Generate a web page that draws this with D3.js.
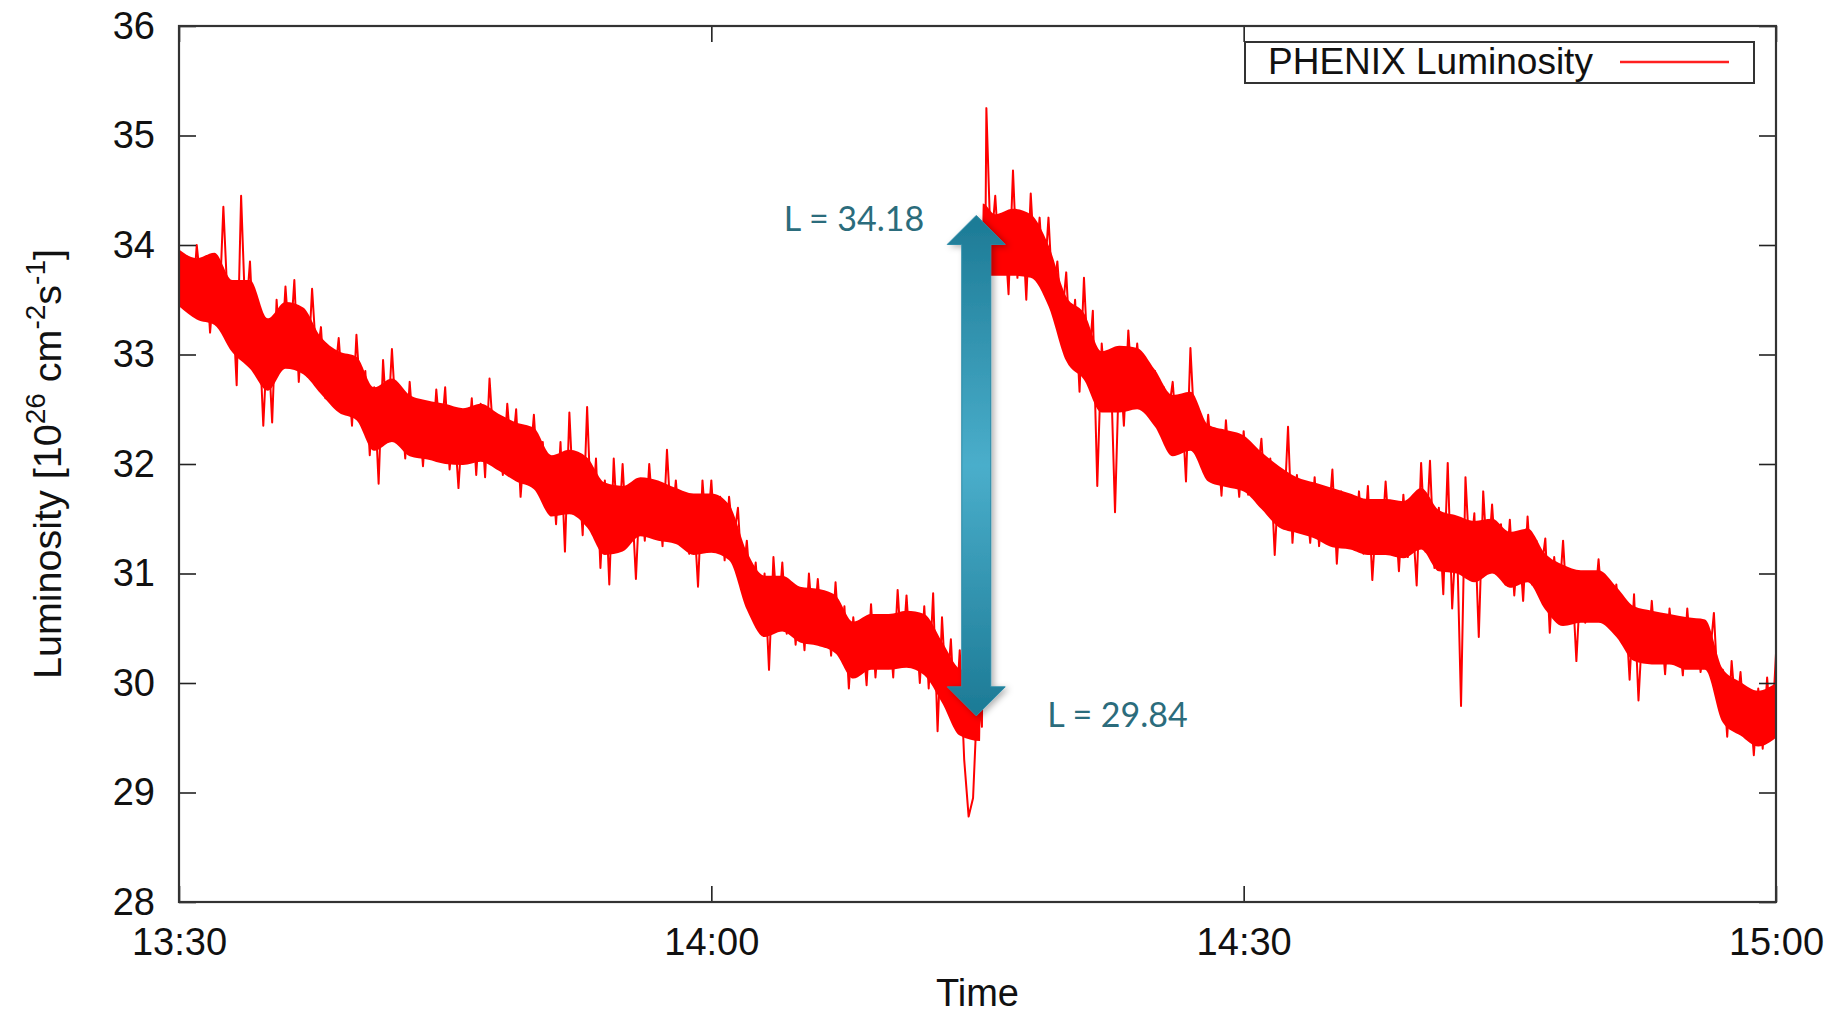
<!DOCTYPE html>
<html>
<head>
<meta charset="utf-8">
<script src="https://cdn.jsdelivr.net/npm/d3@7"></script>
<style>
  html, body { margin: 0; padding: 0; background: #fff; }
  svg { display: block; }
</style>
</head>
<body>
<svg id="chart" width="1833" height="1017"></svg>
<script>
// ---------------- DATA ----------------
const startTime = new Date(2000, 0, 1, 13, 30, 0);   // 13:30
const xTickLabels = ["13:30", "14:00", "14:30", "15:00"];
const xTickMinutes = [0, 30, 60, 90];
const yTickValues = [28, 29, 30, 31, 32, 33, 34, 35, 36];
const yDomain = [28, 36];
const xDomainMinutes = [0, 90];

const seriesName = "PHENIX Luminosity";
const xTitle = "Time";

// noisy trace: one sample every 0.25 min from 13:30 to 15:00
const traceStepMinutes = 0.25;
const traceValues = [
  33.95, 33.5, 33.7, 33.42,   34.0, 33.6, 33.88, 33.2,    33.7, 33.3, 34.35, 33.45,
  33.55, 32.72, 34.45, 33.3,  33.85, 33.0, 33.3, 32.35,   33.2, 32.38, 33.5, 32.9,
  33.62, 33.05, 33.68, 32.75, 33.4, 32.8, 33.6, 32.95,    33.25, 32.6, 33.05, 32.75,
  33.15, 32.6, 32.9, 32.35,   33.18, 32.55, 32.85, 32.08, 32.7, 31.82, 32.95, 32.3,
  33.05, 32.35, 32.6, 32.05,  32.75, 32.2, 32.5, 31.98,   32.55, 32.05, 32.68, 32.2,
  32.7, 31.95, 32.4, 31.78,   32.45, 32.1, 32.6, 31.9,    32.55, 31.88, 32.78, 32.15,
  32.35, 31.9, 32.55, 32.05,  32.5, 31.7, 32.25, 31.95,   32.45, 31.8, 32.2, 31.6,
  32.05, 31.45, 32.2, 31.2,   32.47, 31.6, 32.0, 31.35,   32.52, 31.45, 32.05, 31.05,
  31.85, 30.9, 32.05, 31.3,   32.0, 31.25, 31.75, 30.95,  31.85, 31.3, 32.0, 31.45,
  31.8, 31.25, 32.13, 31.4,   31.85, 31.35, 31.7, 31.18,  31.6, 30.88, 31.85, 31.3,
  31.85, 31.2, 31.7, 31.12,   31.7, 31.3, 31.6, 30.9,     31.3, 30.75, 31.1, 30.55,
  31.0, 30.12, 31.15, 30.55,  31.1, 30.45, 30.9, 30.35,   30.85, 30.3, 31.0, 30.45,
  30.95, 30.4, 30.8, 30.25,   30.92, 30.3, 30.7, 29.95,   30.6, 30.15, 30.5, 29.98,
  30.72, 30.05, 30.6, 30.2,   30.6, 30.05, 30.85, 30.2,   30.8, 30.15, 30.62, 30.0,
  30.7, 29.95, 30.82, 29.56,  30.6, 29.85, 30.4, 29.6,    30.3, 29.3, 28.78, 28.95,
  29.9, 29.6, 35.25, 33.95,   34.45, 33.8, 34.2, 33.55,   34.68, 33.7, 34.3, 33.5,
  34.47, 33.75, 34.25, 33.62, 34.25, 33.5, 33.85, 33.3,   33.75, 32.95, 33.5, 32.66,
  33.7, 32.85, 33.4, 31.8,    33.1, 32.6, 32.95, 31.56,   33.0, 32.35, 33.22, 32.6,
  33.1, 32.6, 32.9, 32.45,    32.85, 32.3, 32.7, 32.45,   32.75, 32.2, 32.6, 31.84,
  33.06, 32.25, 32.45, 31.97, 32.45, 31.95, 32.3, 31.71,  32.4, 31.85, 32.2, 31.7,
  32.3, 31.72, 32.15, 31.85,  32.23, 31.6, 32.05, 31.17,  31.95, 31.45, 32.34, 31.28,
  31.9, 31.4, 31.75, 31.28,   31.88, 31.25, 31.7, 31.4,   31.95, 31.09, 31.75, 31.3,
  31.65, 31.22, 31.75, 31.18, 31.8, 30.94, 31.6, 31.2,    31.84, 31.25, 31.65, 31.02,
  31.72, 31.15, 31.55, 30.89, 32.01, 31.2, 32.03, 31.05,  31.6, 30.81, 32.01, 30.68,
  31.45, 29.79, 31.88, 31.1,  31.55, 30.42, 31.75, 31.05, 31.63, 31.0, 31.45, 30.9,
  31.49, 30.8, 31.35, 30.75,  31.52, 30.9, 31.3, 31.0,    31.32, 30.46, 31.15, 30.7,
  31.3, 30.6, 31.0, 30.2,     30.98, 30.55, 30.85, 30.65, 31.13, 30.6, 30.9, 30.5,
  30.9, 30.45, 30.75, 30.03,  30.81, 29.84, 30.6, 30.2,   30.75, 30.2, 30.6, 30.08,
  30.68, 30.25, 30.5, 30.07,  30.68, 30.15, 30.55, 30.1,  30.45, 30.2, 30.64, 29.85,
  30.12, 29.51, 30.2, 29.7,   30.1, 29.55, 29.9, 29.34,   29.95, 29.4, 30.05, 29.5,
  30.27
];

// dense (solid) core of the noisy band
const coreMinutes = [0,1,2,3,4,5,6,7,8,9,10,11,12,13,14,15,16,17,18,19,20,21,22,23,24,25,26,27,28,29,30,
  31,32,33,34,35,36,37,38,39,40,41,42,43,44,45.15,45.3,46,47,48,49,50,51,52,53,54,55,56,57,58,59,60,
  61,62,63,64,65,66,67,68,69,70,71,72,73,74,75,76,77,78,79,80,81,82,83,84,85,86,87,88,89,90];
const coreTop = [33.96,33.88,33.93,33.68,33.68,33.33,33.48,33.43,33.16,33.03,32.98,32.7,32.78,32.63,32.58,32.55,
  32.51,32.55,32.46,32.38,32.33,32.08,32.13,32.06,31.83,31.8,31.88,31.85,31.78,31.73,31.73,31.63,31.2,30.98,
  30.98,30.88,30.86,30.8,30.56,30.63,30.63,30.66,30.63,30.38,30.13,30.08,34.38,34.28,34.33,34.28,34.0,33.53,33.38,
  33.03,33.08,33.06,32.86,32.63,32.66,32.36,32.31,32.26,32.11,31.98,31.88,31.83,31.78,31.73,31.68,31.68,31.66,
  31.78,31.58,31.53,31.48,31.5,31.38,31.41,31.18,31.08,31.03,31.03,30.88,30.7,30.66,30.63,30.6,30.58,30.13,
  30.01,29.93,30.0];
const coreBottom = [33.44,33.32,33.27,33.02,32.87,32.67,32.87,32.82,32.64,32.47,32.4,32.12,32.2,32.07,32.04,
  32.0,31.99,32.02,31.94,31.84,31.77,31.52,31.54,31.42,31.17,31.2,31.34,31.3,31.27,31.17,31.19,31.12,30.67,
  30.42,30.47,30.37,30.34,30.27,30.04,30.12,30.12,30.14,30.07,29.82,29.52,29.47,33.72,33.72,33.72,33.7,33.44,32.94,
  32.77,32.47,32.47,32.5,32.34,32.07,32.12,31.84,31.79,31.75,31.59,31.42,31.37,31.32,31.24,31.22,31.17,31.17,
  31.14,31.22,31.02,31.0,30.92,31.0,30.87,30.92,30.67,30.52,30.55,30.55,30.42,30.2,30.17,30.17,30.12,30.12,
  29.64,29.52,29.42,29.5];

// annotation (double arrow at the refill)
const arrowMinute = 44.93;
const arrowTipValues = [29.70, 34.27];
const annotationLabels = ["L = 34.18", "L = 29.84"];

// ---------------- LAYOUT ----------------
const margin = { left: 179, top: 26, right: 1833 - 1776, bottom: 1017 - 902 };
const W = 1833, H = 1017;
const svg = d3.select("#chart");
const toDate = m => new Date(startTime.getTime() + m * 60000);

const x = d3.scaleTime().domain(xDomainMinutes.map(toDate)).range([margin.left, W - margin.right]);
const y = d3.scaleLinear().domain(yDomain).range([H - margin.bottom, margin.top]);

const axisFont = "'Liberation Sans', Arial, Helvetica, sans-serif";
const axisColor = "#222";

const defs = svg.append("defs");
defs.append("clipPath").attr("id", "plotclip")
  .append("rect").attr("x", margin.left).attr("y", margin.top)
  .attr("width", W - margin.left - margin.right).attr("height", H - margin.top - margin.bottom);

// ---------- data ----------
const coreData = coreMinutes.map((m, i) => ({ t: toDate(m), hi: coreTop[i], lo: coreBottom[i] }));
const traceData = traceValues.map((v, i) => ({ t: toDate(i * traceStepMinutes), v }));

const gData = svg.append("g").attr("clip-path", "url(#plotclip)");
gData.append("path")
  .datum(coreData)
  .attr("fill", "#ff0000")
  .attr("d", d3.area().curve(d3.curveMonotoneX).x(d => x(d.t)).y0(d => y(d.lo)).y1(d => y(d.hi)));
gData.append("path")
  .datum(traceData)
  .attr("fill", "none")
  .attr("stroke", "#ff0000")
  .attr("stroke-width", 2)
  .attr("stroke-linejoin", "round")
  .attr("d", d3.line().x(d => x(d.t)).y(d => y(d.v)));

// ---------- axes ----------
const xTicks = xTickMinutes.map(toDate);

const gx = svg.append("g").attr("transform", `translate(0,${H - margin.bottom})`)
  .call(d3.axisBottom(x).tickValues(xTicks).tickFormat((d, i) => xTickLabels[i]).tickSize(-16).tickPadding(26));
const gxTop = svg.append("g").attr("transform", `translate(0,${margin.top})`)
  .call(d3.axisTop(x).tickValues(xTicks).tickFormat("").tickSize(-16));
const gy = svg.append("g").attr("transform", `translate(${margin.left},0)`)
  .call(d3.axisLeft(y).tickValues(yTickValues).tickFormat(d3.format("d")).tickSize(-17).tickPadding(24));
const gyRight = svg.append("g").attr("transform", `translate(${W - margin.right},0)`)
  .call(d3.axisRight(y).tickValues(yTickValues).tickFormat("").tickSize(-17));

[gx, gxTop, gy, gyRight].forEach(g => {
  g.select(".domain").remove();
  g.selectAll(".tick line").attr("stroke", axisColor).attr("stroke-width", 1.6);
  g.selectAll("text").attr("font-family", axisFont).attr("font-size", 38).attr("fill", "#111");
});

// frame
svg.append("rect")
  .attr("x", margin.left).attr("y", margin.top)
  .attr("width", W - margin.left - margin.right).attr("height", H - margin.top - margin.bottom)
  .attr("fill", "none").attr("stroke", "#333").attr("stroke-width", 2.2);

// axis titles
svg.append("text")
  .attr("x", (margin.left + W - margin.right) / 2).attr("y", 1006)
  .attr("text-anchor", "middle")
  .attr("font-family", axisFont).attr("font-size", 38).attr("fill", "#111")
  .text(xTitle);

const yt = svg.append("text")
  .attr("transform", `translate(61,${(margin.top + H - margin.bottom) / 2}) rotate(-90)`)
  .attr("text-anchor", "middle")
  .attr("font-family", axisFont).attr("font-size", 39.5).attr("fill", "#111");
yt.append("tspan").text("Luminosity [10");
yt.append("tspan").attr("font-size", 28).attr("dy", -16).text("26");
yt.append("tspan").attr("dy", 16).text(" cm");
yt.append("tspan").attr("font-size", 28).attr("dy", -16).text("-2");
yt.append("tspan").attr("dy", 16).text("s");
yt.append("tspan").attr("font-size", 28).attr("dy", -16).text("-1");
yt.append("tspan").attr("dy", 16).text("]");

// legend
const leg = svg.append("g");
leg.append("rect").attr("x", 1245).attr("y", 42).attr("width", 509).attr("height", 41)
  .attr("fill", "#fff").attr("stroke", "#333").attr("stroke-width", 2);
leg.append("text").attr("x", 1268).attr("y", 74)
  .attr("font-family", axisFont).attr("font-size", 37).attr("fill", "#111")
  .text(seriesName);
leg.append("line").attr("x1", 1620).attr("x2", 1729).attr("y1", 62).attr("y2", 62)
  .attr("stroke", "#ff2020").attr("stroke-width", 2.4);

// ---------- annotation arrow ----------
const grad = defs.append("linearGradient").attr("id", "arrowGrad")
  .attr("x1", 0).attr("y1", 0).attr("x2", 0).attr("y2", 1);
grad.append("stop").attr("offset", "0%").attr("stop-color", "#1c7a95");
grad.append("stop").attr("offset", "50%").attr("stop-color", "#4aaecb");
grad.append("stop").attr("offset", "100%").attr("stop-color", "#1c7a95");
const shadow = defs.append("filter").attr("id", "arrowShadow")
  .attr("x", "-50%").attr("y", "-10%").attr("width", "200%").attr("height", "120%");
shadow.append("feDropShadow").attr("dx", 3).attr("dy", 2).attr("stdDeviation", 3)
  .attr("flood-color", "#000").attr("flood-opacity", 0.3);

const ax = x(toDate(arrowMinute));
const yTop = y(arrowTipValues[1]);
const yBot = y(arrowTipValues[0]);
const headH = 29, headHalf = 29, shaftHalf = 14.5;
const arrowPts = [
  [ax, yTop], [ax + headHalf, yTop + headH], [ax + shaftHalf, yTop + headH],
  [ax + shaftHalf, yBot - headH], [ax + headHalf, yBot - headH], [ax, yBot],
  [ax - headHalf, yBot - headH], [ax - shaftHalf, yBot - headH],
  [ax - shaftHalf, yTop + headH], [ax - headHalf, yTop + headH]
];
svg.append("path")
  .attr("d", d3.line()(arrowPts) + "Z")
  .attr("fill", "url(#arrowGrad)")
  .attr("stroke", "#2a8aa6").attr("stroke-width", 1)
  .attr("filter", "url(#arrowShadow)");

const labelFont = "Lato, 'Open Sans', sans-serif";
svg.append("text").attr("x", ax - 52).attr("y", yTop + 16)
  .attr("text-anchor", "end")
  .attr("font-family", labelFont).attr("font-size", 34).attr("fill", "#2b6c7c")
  .text(annotationLabels[0]);
svg.append("text").attr("x", ax + 71).attr("y", yBot + 11)
  .attr("text-anchor", "start")
  .attr("font-family", labelFont).attr("font-size", 34).attr("fill", "#2b6c7c")
  .text(annotationLabels[1]);
</script>
</body>
</html>
